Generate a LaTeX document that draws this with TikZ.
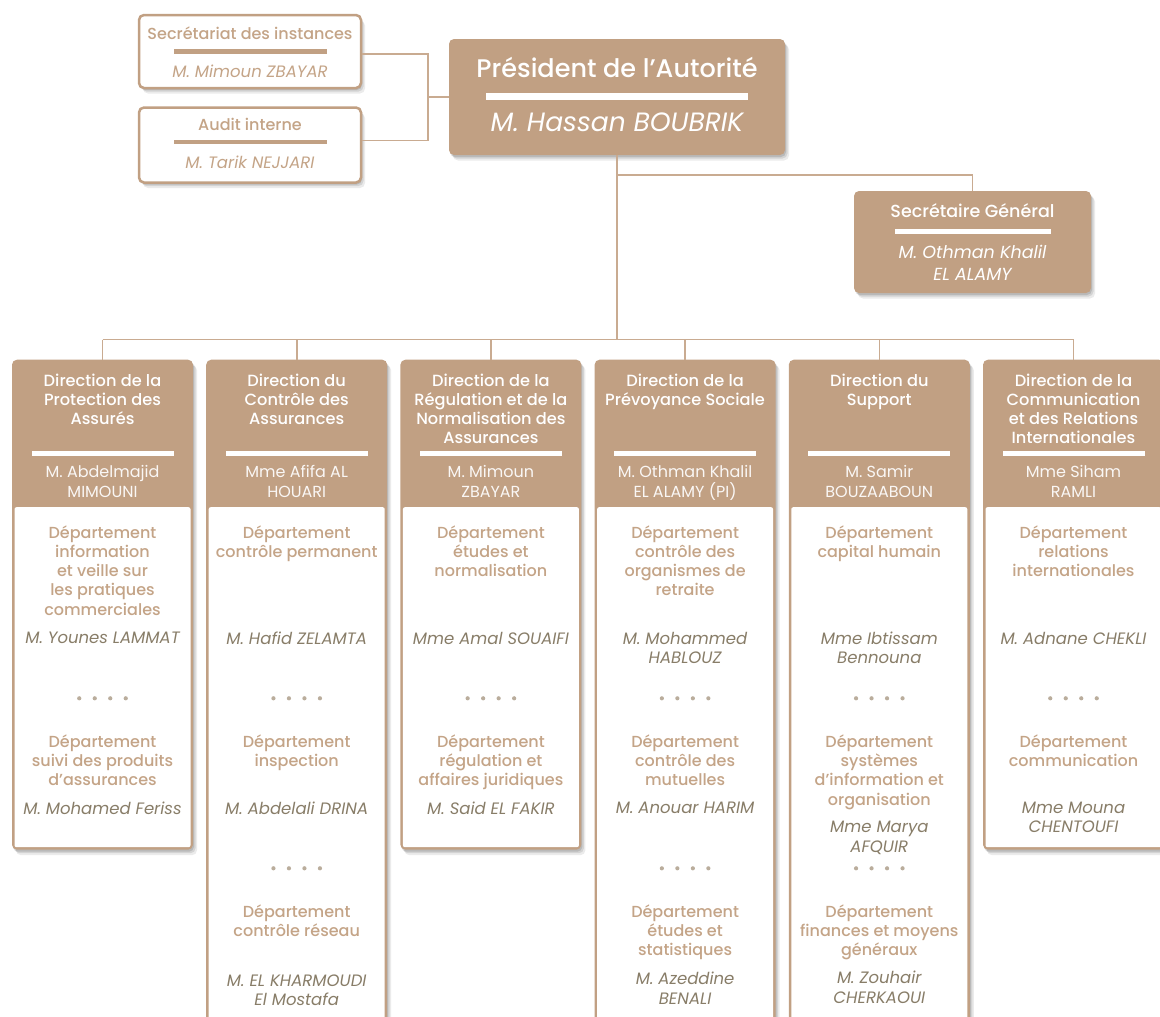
\documentclass[tikz,border=0pt]{standalone}
\usepackage{fontspec}
\setmainfont{Poppins}
\IfFontExistsTF{Poppins Medium}{\newfontfamily\fmed{Poppins Medium}}{\newfontfamily\fmed{Poppins}}
\newfontfamily\fit{Poppins Italic}
\usepackage{xcolor}
\usepackage{tikz}
\usetikzlibrary{positioning,shadows}

\definecolor{sand}{RGB}{193,160,131}
\definecolor{sandline}{RGB}{201,171,145}
\definecolor{sandtext}{RGB}{196,164,135}
\definecolor{namegrey}{RGB}{136,125,104}
\definecolor{dotgrey}{RGB}{186,173,156}

\begin{document}
\begin{tikzpicture}[x=1pt,y=-1pt,
 link/.style={draw=sandline,line width=1.6pt},
 lifted/.style={drop shadow={shadow xshift=1pt,shadow yshift=-2pt,opacity=.12,fill=black},
  drop shadow={shadow xshift=2.5pt,shadow yshift=-3.5pt,opacity=.1,fill=black},
  drop shadow={shadow xshift=4pt,shadow yshift=-5.5pt,opacity=.08,fill=black}},
 card/.style={draw=sand,line width=2.5pt,fill=white,rounded corners=5pt,minimum width=222pt,lifted},
 tanbox/.style={fill=sand,rounded corners=5pt,lifted},
 col/.style={fill=sand,rounded corners=5pt,minimum width=181pt,anchor=north,lifted},
 body/.style={fill=white,rounded corners=2pt,minimum width=176pt,anchor=north},
 bar/.style={inner sep=0pt,minimum height=5pt},
 txt/.style={inner sep=0pt,anchor=north,align=center,yshift=6.6pt},
 cardtitle/.style={txt,text=sandtext,font=\fmed\fontsize{16}{19}\selectfont},
 cardname/.style={txt,text=sandtext,font=\fit\fontsize{16.5}{19}\selectfont},
 coltitle/.style={txt,text=white,font=\fmed\fontsize{16.2}{19.3}\selectfont},
 colboss/.style={txt,text=white!92!sand,font=\fontsize{16}{19.3}\selectfont},
 dept/.style={txt,text=sandtext,font=\fmed\fontsize{16}{19.3}\selectfont},
 who/.style={txt,text=namegrey,font=\fit\fontsize{16.5}{19.5}\selectfont},
 pause/.pic={\foreach \k in {-1.5,-.5,.5,1.5} \fill[dotgrey] (15.5*\k,0) circle (2.1pt);}]
\useasboundingbox (0,0) rectangle (1160,1017);
\clip (0,0) rectangle (1160,1017);

% top row
\node[card,minimum height=73pt] (sec) at (250,51.5) {};
\node[cardtitle] (sect) at (250,32.7) {Secrétariat des instances};
\node[bar,fill=sand,minimum width=153pt,minimum height=4.5pt] (secr) at (250,51.5) {};
\node[cardname] (secn) at (250,71.7) {M. Mimoun ZBAYAR};

\node[card,minimum height=75pt,below=17pt of sec] (aud) {};
\node[cardtitle] (audt) at (250,125) {Audit interne};
\node[bar,fill=sand,minimum width=153pt,minimum height=4.5pt] (audr) at (250,142) {};
\node[cardname] (audn) at (250,162.7) {M. Tarik NEJJARI};

\node[tanbox,minimum width=336pt,minimum height=116pt] (pres) at (617,97) {};
\node[txt,yshift=4.4pt,text=white,font=\fmed\fontsize{25.5}{30}\selectfont] (prest) at (617,68) {Président de l’Autorité};
\node[bar,fill=white,minimum width=262pt,minimum height=7pt] (presr) at (617,96.5) {};
\node[txt,yshift=4.6pt,text=white,font=\fit\fontsize{26.5}{30}\selectfont] (presn) at (617,124) {M. Hassan BOUBRIK};

\node[tanbox,minimum width=237pt,minimum height=102pt] (sg) at (972.5,242) {};
\node[txt,yshift=1pt,text=white,font=\fmed\fontsize{17.5}{22}\selectfont] (sgt) at (972.5,210.7) {Secrétaire Général};
\node[bar,fill=white,minimum width=156pt] (sgr) at (972.5,231.3) {};
\node[txt,yshift=1pt,text=white,font=\fit\fontsize{17.5}{22}\selectfont] (sgn) at (972.5,253) {M. Othman Khalil\\EL ALAMY};

\coordinate (join) at (428,97);
\coordinate (fork) at (617,175);
\coordinate (bus) at (617,339.5);
\draw[link] ([yshift=-2.5pt]sec.east) -| (join) |- ([yshift=4.5pt]aud.east);
\draw[link] (join) -- (pres);
\draw[link] (pres) -- (bus);
\draw[link] (fork) -| (sg);

% directions
\foreach \x/\h/\id/\head/\boss in {
 102.5/490/prot/{Direction de la\\Protection des\\Assurés}/{M. Abdelmajid\\MIMOUNI},
 296.7/680/ctrl/{Direction du\\Contrôle des\\Assurances}/{Mme Afifa AL\\HOUARI},
 490.9/490/regl/{Direction de la\\Régulation et de la\\Normalisation des\\Assurances}/{M. Mimoun\\ZBAYAR},
 685.1/680/prev/{Direction de la\\Prévoyance Sociale}/{M. Othman Khalil\\EL ALAMY (PI)},
 879.3/680/supp/{Direction du\\Support}/{M. Samir\\BOUZAABOUN},
 1073.5/490/comm/{Direction de la\\Communication\\et des Relations\\Internationales}/{Mme Siham\\RAMLI}}
{
 \pgfmathsetmacro\bh{\h-150}
 \node[col,minimum height=\h] (\id) at (\x,359.5) {};
 \node[body,minimum height=\bh] (\id b) at (\x,507) {};
 \node[coltitle] (\id t) at (\x,380) {\head};
 \node[bar,fill=white,minimum width=142pt] (\id r) at (\x,453.3) {};
 \node[colboss] (\id n) at (\x,472) {\boss};
 \draw[link] (\id.north |- bus) -- (\id);
}
\draw[link] (prot.north |- bus) -- (comm.north |- bus);

% departements
\node[dept] (prot1) at (102.5,531.7) {Département\\information\\et veille sur\\les pratiques\\commerciales};
\node[who] (prot1n) at (102.5,638.3) {M. Younes LAMMAT};
\pic (prot1d) at (102.5,698.3) {pause};
\node[dept] (prot2) at (102.5,741) {Département\\suivi des produits\\d’assurances};
\node[who] (prot2n) at (102.5,808.3) {M. Mohamed Feriss};

\node[dept] (ctrl1) at (296.7,531.7) {Département\\contrôle permanent};
\node[who] (ctrl1n) at (296.7,638.3) {M. Hafid ZELAMTA};
\pic (ctrl1d) at (296.7,698.3) {pause};
\node[dept] (ctrl2) at (296.7,741) {Département\\inspection};
\node[who] (ctrl2n) at (296.7,808.3) {M. Abdelali DRINA};
\pic (ctrl2d) at (296.7,868.3) {pause};
\node[dept] (ctrl3) at (296.7,910.8) {Département\\contrôle réseau};
\node[who] (ctrl3n) at (296.7,981) {M. EL KHARMOUDI\\El Mostafa};

\node[dept] (regl1) at (490.9,531.7) {Département\\études et\\normalisation};
\node[who] (regl1n) at (490.9,638.3) {Mme Amal SOUAIFI};
\pic (regl1d) at (490.9,698.3) {pause};
\node[dept] (regl2) at (490.9,741) {Département\\régulation et\\affaires juridiques};
\node[who] (regl2n) at (490.9,808.3) {M. Said EL FAKIR};

\node[dept] (prev1) at (685.1,531.7) {Département\\contrôle des\\organismes de\\retraite};
\node[who] (prev1n) at (685.1,638.3) {M. Mohammed\\HABLOUZ};
\pic (prev1d) at (685.1,698.3) {pause};
\node[dept] (prev2) at (685.1,741) {Département\\contrôle des\\mutuelles};
\node[who] (prev2n) at (685.1,808.3) {M. Anouar HARIM};
\pic (prev2d) at (685.1,868.3) {pause};
\node[dept] (prev3) at (685.1,910.8) {Département\\études et\\statistiques};
\node[who] (prev3n) at (685.1,978.8) {M. Azeddine\\BENALI};

\node[dept] (supp1) at (879.3,531.7) {Département\\capital humain};
\node[who] (supp1n) at (879.3,638.3) {Mme Ibtissam\\Bennouna};
\pic (supp1d) at (879.3,698.3) {pause};
\node[dept] (supp2) at (879.3,741) {Département\\systèmes\\d’information et\\organisation};
\node[who] (supp2n) at (879.3,827.5) {Mme Marya\\AFQUIR};
\pic (supp2d) at (879.3,868.3) {pause};
\node[dept] (supp3) at (879.3,910.8) {Département\\finances et moyens\\généraux};
\node[who] (supp3n) at (879.3,977.5) {M. Zouhair\\CHERKAOUI};

\node[dept] (comm1) at (1073.5,531.7) {Département\\relations\\internationales};
\node[who] (comm1n) at (1073.5,638.3) {M. Adnane CHEKLI};
\pic (comm1d) at (1073.5,698.3) {pause};
\node[dept] (comm2) at (1073.5,741) {Département\\communication};
\node[who] (comm2n) at (1073.5,808) {Mme Mouna\\CHENTOUFI};
\end{tikzpicture}
\end{document}
